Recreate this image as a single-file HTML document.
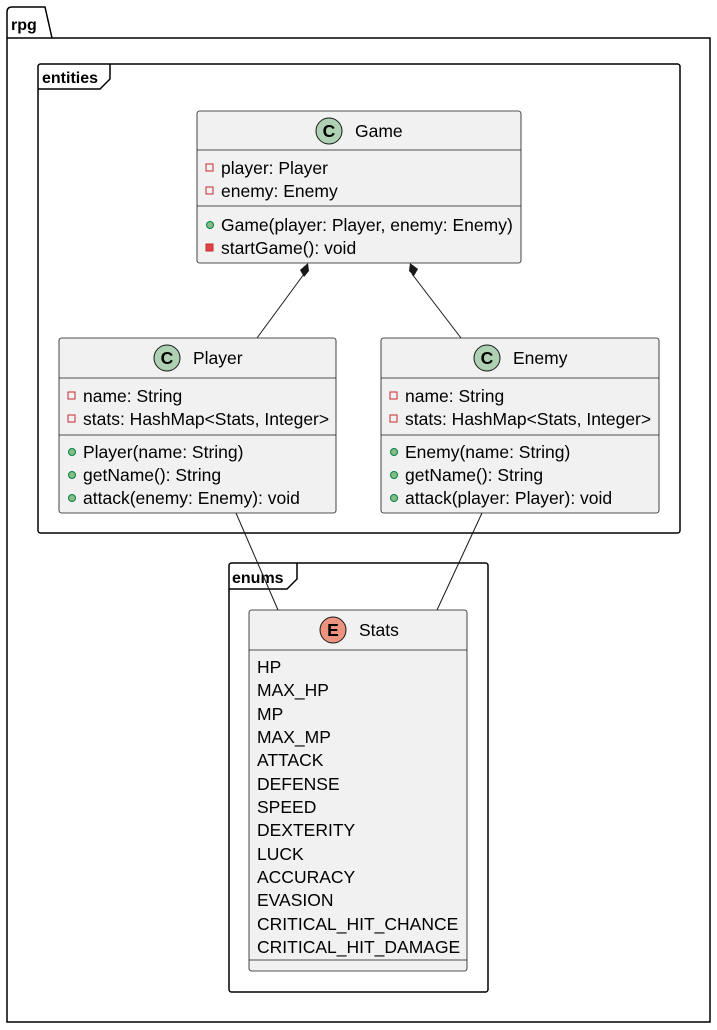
<!DOCTYPE html>
<html><head><style>body{margin:0;background:#fff}svg{display:block}text{font-family:"Liberation Sans",sans-serif;font-size:17.5px;fill:#000}</style></head><body>
<svg width="717" height="1030" viewBox="0 0 717 1030">
<g fill="none" stroke="#000" stroke-width="1.5">
<path d="M7,38 V12 Q7,7 12,7 H45 L52,38 H710 V1022 H7 Z"/>
<line x1="7" y1="38" x2="52" y2="38"/>
<rect x="38" y="64" width="642" height="469" rx="2.5"/>
<path d="M38,89 H100 L110,79 V64"/>
<rect x="229" y="563" width="259" height="429" rx="2.5"/>
<path d="M229,589 H287 L297,579 V563"/>
</g>
<text x="11" y="30" font-weight="bold" style="font-size:16px">rpg</text>
<text x="42" y="83" font-weight="bold" style="font-size:16px">entities</text>
<text x="232" y="583" font-weight="bold" style="font-size:16px">enums</text>
<g stroke="#181818" stroke-width="1">
<line x1="304" y1="274" x2="257" y2="338"/>
<line x1="412" y1="274" x2="461" y2="338"/>
<line x1="236" y1="513" x2="278" y2="610"/>
<line x1="482" y1="513" x2="437" y2="610"/>
</g>
<path d="M308,263 L309,271 L304,277 L300,270 Z" fill="#181818"/>
<path d="M410,263 L418,269 L414,276 L409,271 Z" fill="#181818"/>
<g fill="#f1f1f1" stroke="#181818" stroke-width="0.8">
<rect x="197" y="111" width="324" height="152" rx="2.5"/>
<rect x="59" y="338" width="277" height="175" rx="2.5"/>
<rect x="381" y="338" width="278" height="175" rx="2.5"/>
<rect x="249" y="610" width="218" height="361" rx="2.5"/>
<line x1="197" y1="150" x2="521" y2="150"/><line x1="197" y1="206" x2="521" y2="206"/>
<line x1="59" y1="378" x2="336" y2="378"/><line x1="59" y1="435" x2="336" y2="435"/>
<line x1="381" y1="378" x2="659" y2="378"/><line x1="381" y1="435" x2="659" y2="435"/>
<line x1="249" y1="650" x2="467" y2="650"/><line x1="249" y1="960" x2="467" y2="960"/>
</g>
<g stroke="#181818" stroke-width="1">
<circle cx="329" cy="131" r="13" fill="#add1b2"/>
<circle cx="167" cy="358" r="13" fill="#add1b2"/>
<circle cx="487" cy="358" r="13" fill="#add1b2"/>
<circle cx="333" cy="630" r="13" fill="#eb937f"/>
</g>
<g font-weight="bold" text-anchor="middle" style="font-size:15px">
<text x="329" y="137">C</text><text x="167" y="364">C</text><text x="487" y="364">C</text><text x="333" y="636" font-family="Liberation Mono">E</text>
</g>
<text x="355" y="137">Game</text>
<text x="193" y="364">Player</text>
<text x="513" y="364">Enemy</text>
<text x="359" y="636">Stats</text>
<g fill="none" stroke="#c82930" stroke-width="1">
<rect x="206" y="164" width="7" height="7"/><rect x="206" y="187" width="7" height="7"/>
<rect x="68" y="392" width="7" height="7"/><rect x="68" y="415" width="7" height="7"/>
<rect x="390" y="392" width="7" height="7"/><rect x="390" y="415" width="7" height="7"/>
</g>
<rect x="206" y="244" width="7" height="7" fill="#e04545" stroke="#c82930"/>
<g fill="#84be84" stroke="#038048" stroke-width="1">
<circle cx="210" cy="225" r="3.5"/>
<circle cx="72" cy="452" r="3.5"/><circle cx="72" cy="475" r="3.5"/><circle cx="72" cy="498" r="3.5"/>
<circle cx="394" cy="452" r="3.5"/><circle cx="394" cy="475" r="3.5"/><circle cx="394" cy="498" r="3.5"/>
</g>
<text x="221" y="174">player: Player</text>
<text x="221" y="197">enemy: Enemy</text>
<text x="221" y="231">Game(player: Player, enemy: Enemy)</text>
<text x="221" y="254">startGame(): void</text>
<text x="83" y="402">name: String</text>
<text x="83" y="425">stats: HashMap&lt;Stats, Integer&gt;</text>
<text x="83" y="458">Player(name: String)</text>
<text x="83" y="481">getName(): String</text>
<text x="83" y="504">attack(enemy: Enemy): void</text>
<text x="405" y="402">name: String</text>
<text x="405" y="425">stats: HashMap&lt;Stats, Integer&gt;</text>
<text x="405" y="458">Enemy(name: String)</text>
<text x="405" y="481">getName(): String</text>
<text x="405" y="504">attack(player: Player): void</text>
<g>
<text x="257" y="673">HP</text><text x="257" y="696">MAX_HP</text><text x="257" y="720">MP</text>
<text x="257" y="743">MAX_MP</text><text x="257" y="766">ATTACK</text><text x="257" y="790">DEFENSE</text>
<text x="257" y="813">SPEED</text><text x="257" y="836">DEXTERITY</text><text x="257" y="860">LUCK</text>
<text x="257" y="883">ACCURACY</text><text x="257" y="906">EVASION</text>
<text x="257" y="930">CRITICAL_HIT_CHANCE</text><text x="257" y="953">CRITICAL_HIT_DAMAGE</text>
</g>
</svg>
</body></html>
